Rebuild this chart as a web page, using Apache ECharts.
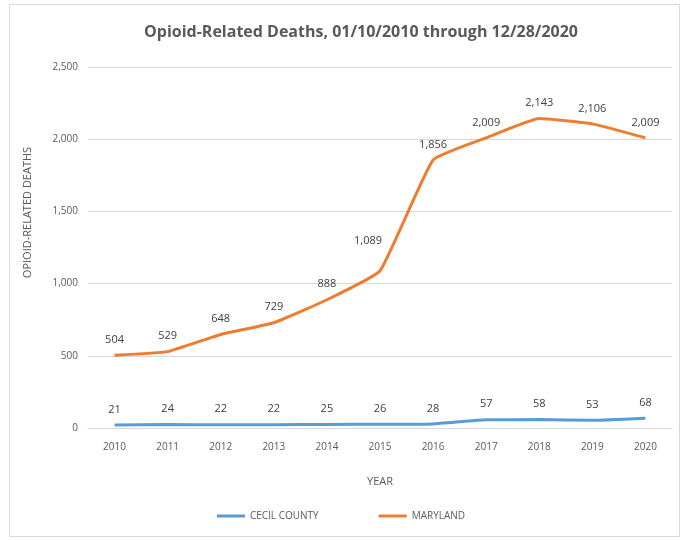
<!DOCTYPE html>
<html>
<head>
<meta charset="utf-8">
<script src="https://cdn.jsdelivr.net/npm/echarts@6/dist/echarts.min.js"></script>
<style>
	html, body { margin: 0; padding: 0; background: #fff; }
	#chart { width: 682px; height: 540px; }
</style>
</head>
<body>
<div id="chart"></div>
<script>
var years = ['2010', '2011', '2012', '2013', '2014', '2015', '2016', '2017', '2018', '2019', '2020'];
var cecilCounty = [21, 24, 22, 22, 25, 26, 28, 57, 58, 53, 68];
var maryland = [504, 529, 648, 729, 888, 1089, 1856, 2009, 2143, 2106, 2009];

var textColor = '#595959';
var fontFamily = '"Open Sans", "Liberation Sans", sans-serif';

var chart = echarts.init(document.getElementById('chart'));

var fmt = function (v) {
	return v.toLocaleString('en-US');
};

// 1,089 label sits up-left of its point in the original
var marylandData = maryland.map(function (v, i) {
	if (i === 5) {
		return { value: v, label: { offset: [-12, -14] } };
	}
	return v;
});

var labelStyle = {
	show: true,
	position: 'top',
	distance: 10,
	color: '#404040',
	fontSize: 11,
	formatter: function (p) { return fmt(p.value); }
};

var option = {
	backgroundColor: '#fff',
	textStyle: { fontFamily: fontFamily },
	graphic: [{
		type: 'rect',
		shape: { x: 9.5, y: 4.5, width: 670, height: 532 },
		style: { fill: 'none', stroke: '#d9d9d9', lineWidth: 1 },
		silent: true
	}],
	title: {
		text: 'Opioid-Related Deaths, 01/10/2010 through 12/28/2020',
		left: 356,
		textAlign: 'center',
		top: 19,
		textStyle: { color: '#595959', fontSize: 16, fontWeight: 'bold', fontFamily: fontFamily }
	},
	legend: {
		bottom: 14,
		left: 'center',
		itemGap: 60,
		itemWidth: 28,
		itemHeight: 3,
		icon: 'rect',
		textStyle: { color: textColor, fontSize: 10 },
		data: ['CECIL COUNTY', 'MARYLAND']
	},
	grid: { left: 88, right: 10, top: 67, bottom: 112 },
	xAxis: {
		type: 'category',
		data: years,
		name: 'YEAR',
		nameLocation: 'middle',
		nameGap: 48,
		nameTextStyle: { color: textColor, fontSize: 11 },
		axisLine: { lineStyle: { color: '#d9d9d9' } },
		axisTick: { show: false },
		axisLabel: { color: textColor, fontSize: 10, margin: 14 }
	},
	yAxis: {
		type: 'value',
		min: 0,
		max: 2500,
		interval: 500,
		name: 'OPIOID-RELATED DEATHS',
		nameLocation: 'middle',
		nameGap: 55,
		nameTextStyle: { color: textColor, fontSize: 11, padding: [0, 0, 0, 70] },
		axisLine: { show: false },
		axisTick: { show: false },
		axisLabel: { color: textColor, fontSize: 10, margin: 10, formatter: fmt },
		splitLine: { lineStyle: { color: '#d9d9d9' } }
	},
	series: [
		{
			name: 'CECIL COUNTY',
			type: 'line',
			data: cecilCounty,
			smooth: 0.12,
			symbol: 'circle',
			symbolSize: 0,
			lineStyle: { color: '#5b9bd5', width: 3 },
			itemStyle: { color: '#5b9bd5' },
			label: labelStyle
		},
		{
			name: 'MARYLAND',
			type: 'line',
			data: marylandData,
			smooth: 0.12,
			symbol: 'circle',
			symbolSize: 0,
			lineStyle: { color: '#ed7d31', width: 3 },
			itemStyle: { color: '#ed7d31' },
			label: labelStyle
		}
	]
};

chart.setOption(option);
</script>
</body>
</html>
